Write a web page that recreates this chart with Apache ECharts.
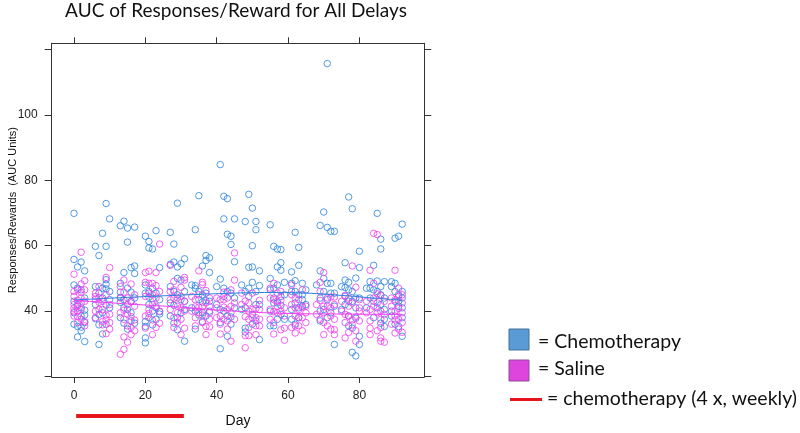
<!DOCTYPE html>
<html>
<head>
<meta charset="utf-8">
<script src="https://cdn.jsdelivr.net/npm/echarts@6/dist/echarts.min.js"></script>
<style>
html,body{margin:0;padding:0;background:#fff;}
#chart{width:800px;height:433px;}
</style>
</head>
<body>
<div id="chart"></div>
<script>
// ---- data ----
const xTickValues = [0, 20, 40, 60, 80];
const yTickValues = [20, 40, 60, 80, 100, 120];
const yLabelValues = [40, 60, 80, 100];

// Chemotherapy group: [day, AUC]
const chemoPoints = [
  [0,69.9],[0,55.8],[2,55],[1,53.5],[3,52.3],[0,43],[3,40.3],[3,38.8],[1,35.3],[2,35.1],[2,34],[1,32.1],[3,30.7],[1,42],[2,41],[0,39.5],[3,36.5],
  [0,48],[1,47],[2,38.5],[3,44],[0,36],[2,46.5],
  [9,72.9],[10,68.2],[8,63.8],[6,59.8],[9,59.8],[7,57],[9,49.6],[9,48.2],[8,47],[9,46.8],[10,46],[7,45.5],[9,41.8],[10,41],[6,37.7],[7,35.8],[7,29.8],[8,39.5],[6,42],
  [6,47.5],[8,44],[10,43.5],[7,39],[9,36],[8,33],
  [14,67.5],[13,66.1],[15,65.4],[17,65.7],[15,61.1],[14,51.8],[17,53.8],[16,53.3],[17,51.5],[13,45.8],[13,44.2],[13,42.7],[16,45.8],[14,41],[16,39.5],[14,36.3],[17,36.3],[15,34.5],[13,38],[16,43],
  [13,48.5],[15,47],[17,44],[14,43.5],[16,37],[15,40.5],
  [20,62.9],[21,61.3],[21,59.3],[22,59],[23,64.6],[24,53.3],[21,44.3],[22,43.8],[24,39.8],[24,39.1],[22,35.8],[20,36.8],[20,35.3],[20,31.8],[20,30.3],[23,37.5],[21,42],[22,47],[20,45.5],[23,41],
  [20,48],[21,46],[23,45.5],[24,43.5],[22,40],[21,38],
  [29,73],[27,64.1],[28,60.5],[31,56],[27,54.3],[28,55],[29,53.5],[30,54.5],[29,50],[30,49.5],[28,41.8],[29,45],[31,46],[28,36.3],[29,34.3],[31,30.8],[30,39.5],[27,38.5],[31,43],
  [27,47.5],[28,46],[30,43.5],[31,40.5],[29,38],[27,42.5],
  [34,64.9],[35,75.3],[37,57],[38,56.3],[37,55.5],[36,53.8],[38,51.8],[34,47.8],[34,47],[37,45.5],[35,43.5],[36,42.8],[37,43.2],[35,38.8],[37,38.5],[34,34.5],[38,40],[33,41],[36,36.8],
  [33,48],[35,46],[36,45],[38,43],[34,40],[36,39.5],
  [41,84.8],[42,75.1],[43,74.4],[42,68.2],[45,68.2],[43,63.5],[44,62.9],[44,60.4],[45,55.1],[41,49.8],[42,44.5],[44,45.5],[45,44],[43,38.5],[44,38.2],[42,40],[41,36.5],[43,32.3],[41,28.5],[40,42],
  [40,47.5],[42,47],[43,46],[45,41],[44,36],[41,40.5],
  [49,75.7],[50,71.5],[48,67.4],[51,67.4],[51,64.9],[50,60],[49,53.4],[50,53.5],[52,52.3],[50,48.8],[52,47.8],[48,46],[49,44.5],[51,42],[50,39],[48,34.8],[48,33.6],[52,31.3],[51,37],[47,40.5],
  [47,48],[49,47],[51,46],[52,42],[48,41],[50,36],
  [55,66.4],[56,59.8],[57,59],[58,58.8],[58,54.8],[57,53.5],[58,52.5],[59,48.8],[55,46.5],[56,47],[56,42.5],[57,42.5],[58,41.8],[57,37.5],[59,37.5],[55,40],[56,35.5],[58,44.5],
  [55,50],[57,48],[59,45],[56,44],[58,39],[55,35.5],
  [62,64.1],[63,59.5],[63,54],[62,49.3],[64,48.5],[61,46],[63,45],[64,43.5],[62,42.5],[61,40.5],[63,38],[62,36],[64,41.5],[65,46.5],[61,52],
  [61,48.5],[62,46],[64,45],[65,42],[63,41],[61,37.5],
  [71,115.7],[70,70.3],[69,66.2],[71,65.6],[72,64.4],[73,64.4],[69,52.3],[71,48.5],[72,48.5],[70,46],[69,44],[71,43.5],[70,40.5],[72,39.5],[69,37],[73,29.8],[73,45.5],
  [68,48],[70,50],[72,45.5],[73,41.5],[69,40],[71,38],
  [77,74.9],[78,71.3],[80,58.3],[76,54.8],[80,53.3],[76,49.5],[77,48.8],[79,50.1],[76,47.2],[77,46.5],[79,44],[78,43],[76,42],[77,38.5],[79,37.8],[77,35.5],[78,34.8],[80,32.3],[80,29.8],[78,27.4],[79,26.3],[75,40.5],
  [75,47.5],[78,46],[80,44],[76,44.5],[79,41],[77,43],
  [85,69.9],[86,62],[86,59],[84,54],[83,49],[85,49.2],[87,49],[83,47],[85,46],[86,45],[84,43],[86,42],[87,40.5],[86,36.3],[87,35.3],[84,38],[82,41],[87,44],
  [82,47],[84,46.5],[86,47.5],[83,44],[85,41],[87,37.5],
  [92,66.6],[91,62.9],[90,62.3],[89,47.5],[90,46],[91,45],[92,44],[90,43],[91,41.5],[92,38],[90,36],[91,35.3],[92,32.3],[89,40],
  [89,49],[90,48.5],[92,46],[91,43],[89,38.5],[92,41]
];

// Saline group: [day, AUC]
const salinePoints = [
  [2,58],[0,51.3],[2,48.3],[3,49.3],[0,46],[1,46.5],[2,45.8],[1,43.3],[0,40.8],[1,41.5],[0,39.8],[1,38.3],[3,36.8],[3,35.5],[0,42],[1,40],[2,44],[0,38.5],[2,37.5],
  [3,43],[0,44.5],[2,40.5],[1,36.5],[3,46.5],[2,42.5],
  [10,53.3],[9,50.3],[7,44.1],[6,43.6],[6,44.5],[7,42.7],[8,43],[7,40.5],[9,38.8],[9,37.3],[8,35.8],[10,34.5],[9,33.1],[6,45.5],[10,39],[8,36.8],[6,40],
  [7,47.5],[9,45],[10,42],[8,40.5],[6,38],[10,36.5],
  [16,48.3],[14,45.8],[16,42.8],[14,40.3],[15,39.1],[16,38.3],[17,37.3],[14,32.1],[16,32.8],[14,28.3],[13,26.8],[13,47.5],[15,44],[17,41.5],[13,39.5],[15,35.5],[17,34],[14,49.5],
  [13,44],[15,42],[17,45],[14,37.5],[16,35],[15,30.5],
  [24,60.5],[20,51.8],[23,51.8],[21,52.2],[20,48.8],[21,48.5],[23,47.8],[22,48.5],[20,44.5],[22,42],[21,39.3],[22,37.3],[24,36.3],[20,34.8],[22,32.8],[23,44],[24,46],[21,40.5],
  [21,45.5],[23,41.5],[24,40],[20,38.5],[22,45],[23,35],
  [27,54],[28,49.1],[31,50.3],[30,47.3],[31,49.5],[27,43.5],[28,43.9],[29,41.5],[30,41],[31,40],[29,39.5],[31,34.8],[30,32.8],[28,38],[27,46],[30,44.5],[29,36.5],
  [28,46.5],[29,44],[27,40.5],[31,43],[30,37.5],[28,35],
  [35,52.3],[36,48.8],[36,48.1],[37,46.3],[34,43.5],[34,41.3],[35,41.2],[36,41.3],[38,41.5],[35,39.5],[36,38.8],[38,37.5],[34,35.5],[37,35.3],[38,35.2],[37,32.8],[33,44.5],[38,44],
  [33,40],[35,45],[37,42.5],[36,36.5],[34,38],[38,39.5],
  [45,57.8],[45,49.5],[42,45.8],[41,43.5],[44,46.5],[40,41],[42,41.2],[43,40.5],[44,41.5],[41,38.5],[42,37.5],[43,37],[45,37.5],[41,36],[43,34.5],[44,30.8],[40,44],
  [40,38],[42,43.5],[43,44],[45,42.5],[41,33],[44,39.5],
  [48,43.1],[52,43.3],[50,40.5],[51,40.8],[49,40],[48,38.3],[49,37.5],[51,38],[52,37.5],[48,32.5],[49,32.5],[51,32.8],[48,28.8],[50,45.5],[47,42],[52,35.5],
  [47,45.5],[49,42.5],[50,38],[52,40.5],[51,35.5],[49,35],
  [56,48.5],[55,44],[56,43.5],[57,43],[58,43.3],[55,40.5],[56,39.8],[57,39.5],[58,34.3],[59,34.8],[59,31.1],[55,37.5],[56,36.5],[57,45.5],[59,41],
  [55,47],[57,41.5],[58,40],[59,38.5],[56,33],[58,46],
  [61,45],[62,41],[63,40.5],[64,41.2],[62,38.5],[64,38],[61,35],[63,35.5],[62,33.3],[64,34],[65,39.5],[63,43.5],[61,48],[65,36.5],
  [62,44],[61,42],[64,46.5],[63,38],[65,41.5],[62,35.5],
  [70,51.8],[69,48.8],[69,43.3],[72,44.3],[73,44.3],[70,41.5],[71,41.5],[73,42],[70,39.5],[72,38.5],[69,37.5],[73,37.5],[73,34.3],[73,32.8],[70,32.8],[71,35.5],[68,42],
  [68,39],[69,46],[71,44],[72,41],[70,36.5],[72,34.5],
  [78,53.8],[79,47.3],[76,44.8],[80,41],[80,40],[77,41.5],[76,39],[77,38.5],[78,37.3],[79,38.2],[80,37],[76,31.8],[79,30.8],[75,43],[78,35.8],[77,44],
  [75,40],[76,36.5],[78,42.5],[80,43.5],[79,34],[77,33.5],
  [84,63.8],[85,63.4],[83,52.5],[84,48.5],[85,45.3],[86,44.8],[84,44],[83,40.5],[85,39.5],[86,40],[87,39],[86,37.5],[83,34.8],[85,34],[83,32.8],[86,31.8],[87,30.5],[86,30.8],[82,43],
  [82,39.5],[84,41.5],[85,42.5],[87,43],[83,37],[86,35],
  [90,52.5],[91,47],[90,43.5],[92,42.5],[91,40.8],[90,40],[92,39.5],[90,37.3],[91,37.5],[92,36.5],[90,33.3],[92,33.5],[89,44],
  [89,41.5],[91,44.5],[92,45],[90,38.5],[91,34.5],[89,36]
];

// Smoothed trend lines
const chemoTrend = [[0,43.4],[15,44.2],[30,44.9],[45,45.5],[55,45.7],[65,45.5],[75,44.8],[85,43.9],[92,43.3]];
const salineTrend = [[0,43.3],[15,42.2],[30,41.2],[45,40.0],[60,39.3],[75,39.1],[92,39.0]];

// Chemotherapy treatment period (days)
const treatmentPeriod = [[0.6, 0], [30.8, 0]];

// ---- chart ----
const BLUE = '#2882de';
const MAG = '#f03cf0';
const AXIS = '#333';
const X_MIN = -6.25, X_MAX = 98.2, Y_MIN = 19.85, Y_MAX = 121.9;
const FONT = '"Liberation Sans", Arial, sans-serif';
const CAL = 'Lato, "Open Sans", sans-serif';

const chart = echarts.init(document.getElementById('chart'), null, {renderer: 'canvas'});

const baseX = {
  type: 'value', min: X_MIN, max: X_MAX, gridIndex: 0,
  splitLine: {show: false},
  axisLine: {show: true, onZero: false, lineStyle: {color: AXIS, width: 1}},
  axisTick: {show: true, inside: false, length: 6, customValues: xTickValues, lineStyle: {color: AXIS}},
};
const baseY = {
  type: 'value', min: Y_MIN, max: Y_MAX, gridIndex: 0,
  splitLine: {show: false},
  axisLine: {show: true, onZero: false, lineStyle: {color: AXIS, width: 1}},
  axisTick: {show: true, inside: false, length: 7, customValues: yTickValues, lineStyle: {color: AXIS}},
};

chart.setOption({
  animation: false,
  backgroundColor: '#fff',
  grid: [
    {left: 51.7, right: 375.7, top: 43.3, bottom: 49.7, containLabel: false},
    {left: 51.7, right: 375.7, top: 406, height: 20, containLabel: false}
  ],
  xAxis: [
    Object.assign({}, baseX, {
      position: 'bottom',
      name: 'Day', nameLocation: 'middle', nameGap: 37,
      nameTextStyle: {fontFamily: FONT, fontSize: 14, color: '#111'},
      axisLabel: {show: true, customValues: xTickValues, margin: 13, fontFamily: FONT, fontSize: 12, color: '#222'}
    }),
    Object.assign({}, baseX, {position: 'top', axisLabel: {show: false}}),
    {type: 'value', gridIndex: 1, min: X_MIN, max: X_MAX, show: false}
  ],
  yAxis: [
    Object.assign({}, baseY, {
      position: 'left',
      name: 'Responses/Rewards  (AUC Units)', nameLocation: 'middle', nameGap: 33, nameRotate: 90,
      nameMoveOverlap: false,
      nameTextStyle: {fontFamily: FONT, fontSize: 11, color: '#111'},
      axisLabel: {show: true, customValues: yLabelValues, margin: 14, fontFamily: FONT, fontSize: 12, color: '#222'}
    }),
    Object.assign({}, baseY, {position: 'right', axisLabel: {show: false}}),
    {type: 'value', gridIndex: 1, min: -1, max: 1, show: false}
  ],
  series: [
    {
      type: 'scatter', name: 'Chemotherapy', xAxisIndex: 0, yAxisIndex: 0,
      data: chemoPoints, symbol: 'circle', symbolSize: 6.5,
      itemStyle: {color: 'rgba(0,0,0,0)', borderColor: BLUE, borderWidth: 1},
      emphasis: {disabled: true}
    },
    {
      type: 'scatter', name: 'Saline', xAxisIndex: 0, yAxisIndex: 0,
      data: salinePoints, symbol: 'circle', symbolSize: 6.5,
      itemStyle: {color: 'rgba(0,0,0,0)', borderColor: MAG, borderWidth: 1},
      emphasis: {disabled: true}
    },
    {
      type: 'line', xAxisIndex: 0, yAxisIndex: 0, data: chemoTrend, smooth: true,
      showSymbol: false, lineStyle: {color: BLUE, width: 1}, z: 5
    },
    {
      type: 'line', xAxisIndex: 0, yAxisIndex: 0, data: salineTrend, smooth: true,
      showSymbol: false, lineStyle: {color: MAG, width: 1}, z: 5
    },
    {
      type: 'line', xAxisIndex: 2, yAxisIndex: 2, data: treatmentPeriod,
      showSymbol: false, lineStyle: {color: '#e8141b', width: 4, cap: 'butt'}
    }
  ],
  graphic: [
    {type: 'text', x: 236, y: 11,
      style: {text: 'AUC of Responses/Reward for All Delays', fill: '#111', font: '19px ' + CAL,
        textAlign: 'center', textVerticalAlign: 'middle'}},
    {type: 'rect', shape: {x: 509, y: 329, width: 20, height: 21},
      style: {fill: '#5B9BD5', stroke: '#41719C', lineWidth: 1}},
    {type: 'text', x: 538, y: 342,
      style: {text: '= Chemotherapy', fill: '#111', font: '19.5px ' + CAL, textAlign: 'left', textVerticalAlign: 'middle'}},
    {type: 'rect', shape: {x: 509, y: 360, width: 20, height: 21},
      style: {fill: '#DD45DC', stroke: '#8E4A9C', lineWidth: 1}},
    {type: 'text', x: 538, y: 369,
      style: {text: '= Saline', fill: '#111', font: '19.5px ' + CAL, textAlign: 'left', textVerticalAlign: 'middle'}},
    {type: 'line', shape: {x1: 510, y1: 399.5, x2: 542, y2: 399.5},
      style: {stroke: '#e8141b', lineWidth: 3}},
    {type: 'text', x: 547, y: 399,
      style: {text: '= chemotherapy (4 x, weekly)', fill: '#111', font: '19.5px ' + CAL, textAlign: 'left', textVerticalAlign: 'middle'}}
  ]
});
</script>
</body>
</html>
